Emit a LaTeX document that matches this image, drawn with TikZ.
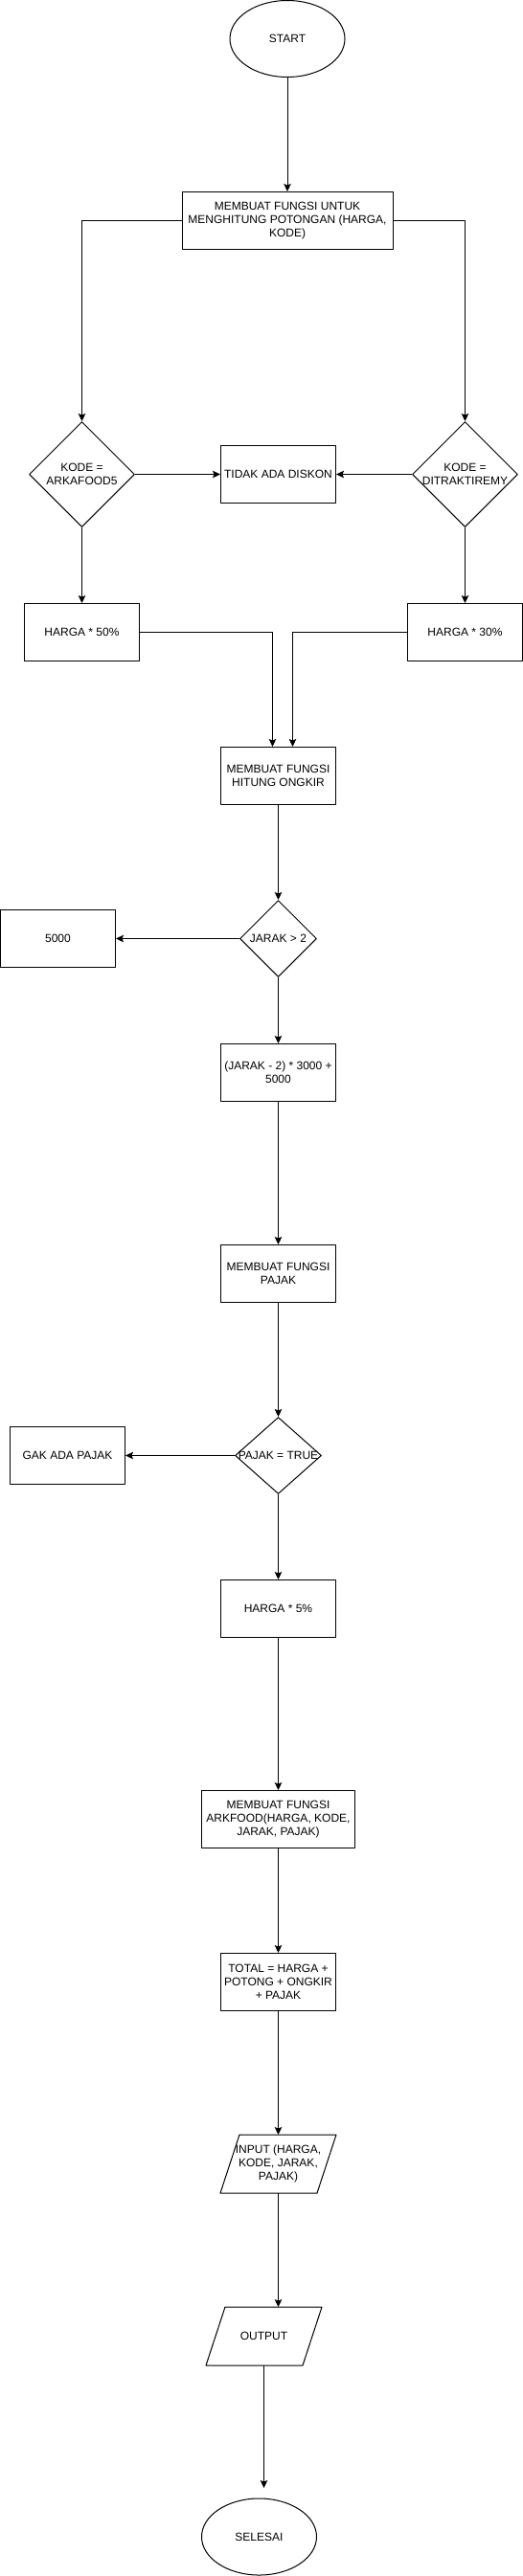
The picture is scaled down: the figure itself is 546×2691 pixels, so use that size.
\documentclass[tikz,border=0pt]{standalone}
\usepackage{fontspec}
\setmainfont{Liberation Sans}
\usetikzlibrary{shapes.geometric,arrows.meta}
\begin{document}
\begin{tikzpicture}[x=1pt,y=-1pt,font=\fontsize{12}{14}\selectfont, line join=round, line width=1pt, >={Stealth[length=8pt,width=7.5pt,inset=1.5pt]},
	proses/.style={draw, rectangle, minimum width=120pt, minimum height=60pt, inner sep=1pt, align=center},
	terminal/.style={draw, ellipse, minimum width=120pt, minimum height=80pt, inner sep=0pt},
	keputusan/.style={draw, diamond, inner sep=-15pt, align=center},
	io/.style={minimum width=120pt, minimum height=60pt, inner sep=0pt, align=center}]
	\useasboundingbox (0,0) rectangle (546,2691);
	\def \tengah{290.5}
	\def \miring{20}
	\node[terminal] (start) at (300,40.5) {START};
	\node[proses, minimum width=220pt] (potongan) at (300,230.5) {MEMBUAT FUNGSI UNTUK\\MENGHITUNG POTONGAN (HARGA,\\KODE)};
	\node[keputusan, minimum width=110pt, minimum height=110pt] (kodeA) at (85.5,495.5) {KODE =\\ARKAFOOD5};
	\node[keputusan, minimum width=110pt, minimum height=110pt] (kodeB) at (485.5,495.5) {KODE =\\DITRAKTIREMY};
	\node[proses] (diskon) at (\tengah,495.5) {TIDAK ADA DISKON};
	\node[proses] (harga50) at (85.5,660.5) {HARGA * 50\%};
	\node[proses] (harga30) at (485.5,660.5) {HARGA * 30\%};
	\node[proses] (ongkir) at (\tengah,810.5) {MEMBUAT FUNGSI\\HITUNG ONGKIR};
	\node[keputusan, minimum width=80pt, minimum height=80pt] (jarak) at (\tengah,980.5) {JARAK > 2};
	\node[proses] (lima) at (60.5,980.5) {5000};
	\node[proses] (hitung) at (\tengah,1120.5) {(JARAK - 2) * 3000 +\\5000};
	\node[proses] (pajak) at (\tengah,1330.5) {MEMBUAT FUNGSI\\PAJAK};
	\node[keputusan, minimum width=90pt, minimum height=80pt] (cekpajak) at (\tengah,1520.5) {PAJAK = TRUE};
	\node[proses] (gakpajak) at (70.5,1520.5) {GAK ADA PAJAK};
	\node[proses] (harga5) at (\tengah,1680.5) {HARGA * 5\%};
	\node[proses, minimum width=160pt] (arkfood) at (\tengah,1900.5) {MEMBUAT FUNGSI\\ARKFOOD(HARGA, KODE,\\JARAK, PAJAK)};
	\node[proses] (total) at (\tengah,2070.5) {TOTAL = HARGA +\\POTONG + ONGKIR\\+ PAJAK};
	\node[io] (input) at (\tengah,2260.5) {INPUT (HARGA,\\KODE, JARAK,\\PAJAK)};
	\node[io] (output) at (275.5,2440.5) {OUTPUT};
	\node[terminal] (selesai) at (270.5,2650) {SELESAI};
	\coordinate (akhir) at (275.5,2599);
	\foreach \n in {input,output}
	\draw ([xshift=\miring pt]\n.north west) -- (\n.north east) -- ([xshift=-\miring pt]\n.south east) -- (\n.south west) -- cycle;
	\foreach \a/\b in {start/potongan,kodeA/diskon,kodeB/diskon,kodeA/harga50,kodeB/harga30,ongkir/jarak,jarak/lima,jarak/hitung,hitung/pajak,pajak/cekpajak,cekpajak/gakpajak,cekpajak/harga5,harga5/arkfood,arkfood/total,total/input}
	\draw[->] (\a) -- (\b);
	\draw[->] (potongan.west) -| (kodeA.north);
	\draw[->] (potongan.east) -| (kodeB.north);
	\draw[->] (harga50.east) -| ([xshift=-6pt]ongkir.north);
	\draw[->] (harga30.west) -| ([xshift=15pt]ongkir.north);
	\draw[->] (input.south) -- (input.south |- output.north);
	\draw[->] (output.south) -- (akhir);
\end{tikzpicture}
\end{document}
